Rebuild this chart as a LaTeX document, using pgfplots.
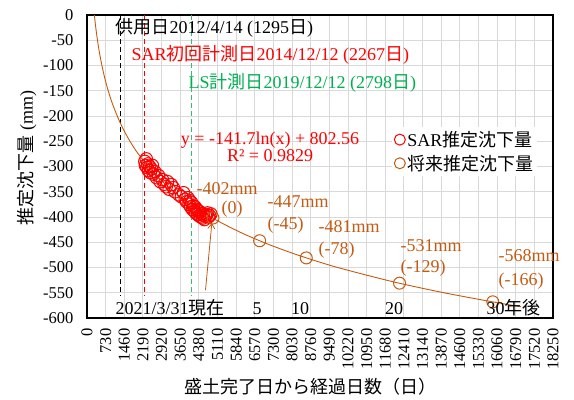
\documentclass[border=0pt]{standalone}
\usepackage{fontspec}
\setmainfont{Liberation Serif}
\newfontfamily\jp{Noto Sans CJK JP}
\usepackage{pgfplots}
\pgfplotsset{compat=1.18}
\usetikzlibrary{arrows.meta}

\definecolor{sarred}{RGB}{255,0,0}
\definecolor{futorange}{RGB}{197,90,17}
\definecolor{lsgreen}{RGB}{0,176,80}
\definecolor{lsdash}{RGB}{60,185,115}
\definecolor{gridgray}{RGB}{217,217,217}

\begin{document}
\begin{tikzpicture}[font=\fontsize{18bp}{21bp}\selectfont]
\begin{axis}[
  scale only axis, width=466bp, height=303bp,
  xmin=0, xmax=18250, ymin=-600, ymax=0,
  xtick={0,730,1460,2190,2920,3650,4380,5110,5840,6570,7300,8030,8760,9490,10220,10950,11680,12410,13140,13870,14600,15330,16060,16790,17520,18250},
  ytick={-600,-550,-500,-450,-400,-350,-300,-250,-200,-150,-100,-50,0},
  scaled x ticks=false,
  /pgf/number format/1000 sep={},
  /pgf/number format/assume math mode=true,
  tick label style={font=\fontsize{16.5bp}{19bp}\selectfont},
  xticklabel style={rotate=90, anchor=east},
  xticklabel shift=7bp,
  yticklabel shift=10bp,
  grid=major,
  major grid style={gridgray, line width=0.9bp},
  axis line style={black, line width=1.1bp},
  major tick length=0pt,
  clip mode=individual,
  legend style={at={(axis cs:11950,-222)}, anchor=north west, draw=none, fill=white,
    font=\fontsize{18bp}{21bp}\selectfont, row sep=3bp, inner sep=2bp},
  legend cell align=left,
]

% reference dates
\addplot[black, line width=0.9bp, dash pattern=on 5bp off 3bp, forget plot] coordinates {(1295,0) (1295,-555)};
\addplot[sarred, line width=0.9bp, dash pattern=on 5bp off 3bp, forget plot] coordinates {(2267,0) (2267,-555)};
\addplot[lsdash, line width=1.4bp, dash pattern=on 5bp off 3bp, forget plot] coordinates {(4093,0) (4093,-555)};

% logarithmic fit y = -141.7 ln(x) + 802.56
\addplot[futorange, line width=0.9bp, smooth, forget plot] coordinates {
(288,0) (320,-14.8) (350,-27.5) (400,-46.4) (450,-63.1) (500,-78.1) (600,-103.9)
(700,-125.7) (800,-144.6) (900,-161.3) (1000,-176.3) (1250,-207.9) (1500,-233.7)
(1750,-255.6) (2000,-274.5) (2500,-306.1) (3000,-331.9) (3500,-353.8) (4000,-372.7)
(5000,-404.3) (6000,-430.2) (7000,-452.0) (8000,-470.9) (9000,-487.6) (10000,-502.5)
(12000,-528.4) (14000,-550.2) (16000,-569.1) (17000,-577.7)};

% SAR estimated settlement
\addplot[only marks, mark=o, sarred, mark size=6.3bp, line width=1bp, forget plot] coordinates {
(2267,-290) (2290,-298) (2320,-285) (2350,-302) (2380,-295) (2410,-308) (2450,-300)
(2480,-312) (2520,-305) (2560,-298) (2600,-315) (2650,-310) (2720,-322) (2800,-318)
(2870,-330) (2950,-326) (3020,-335) (3100,-340) (3150,-330) (3220,-345) (3300,-336)
(3380,-342) (3450,-350) (3600,-356) (3700,-360) (3780,-352) (3850,-365) (3900,-370)
(3950,-362) (4000,-375) (4030,-368) (4060,-380) (4100,-372) (4130,-385) (4160,-378)
(4200,-388) (4230,-380) (4260,-392) (4300,-385) (4330,-395) (4360,-388) (4400,-398)
(4430,-390) (4460,-400) (4500,-393) (4530,-402) (4560,-396) (4600,-405) (4640,-398)
(4680,-395) (4720,-392) (4760,-400) (4800,-397) (4850,-394)};

% future estimated settlement (now, +5, +10, +20, +30 years)
\addplot[only marks, mark=o, futorange, mark size=6bp, line width=1bp, forget plot] coordinates {
(4935,-402) (6761,-447) (8587,-481) (12240,-531) (15892,-568)};

\addlegendimage{only marks, mark=o, sarred, mark size=5.5bp, line width=1bp}
\addlegendentry{SAR{\jp 推定沈下量}}
\addlegendimage{only marks, mark=o, futorange, mark size=5.5bp, line width=1bp}
\addlegendentry{{\jp 将来推定沈下量}}

% annotations
\node[anchor=base west, text=black] at (axis cs:979,-37.6) {{\jp 供用日}2012/4/14 (1295{\jp 日})};
\node[anchor=base west, text=sarred] at (axis cs:1606,-91) {SAR{\jp 初回計測日}2014/12/12 (2267{\jp 日})};
\node[anchor=base west, text=lsgreen] at (axis cs:3839,-144.6) {LS{\jp 計測日}2019/12/12 (2798{\jp 日})};
\node[anchor=base, text=sarred] at (axis cs:7168,-257) {y = -141.7ln(x) + 802.56};
\node[anchor=base, text=sarred] at (axis cs:7168,-291) {R² = 0.9829};

\node[anchor=base west, text=futorange] at (axis cs:4152,-355) {-402mm};
\node[anchor=base west, text=futorange] at (axis cs:5130,-394) {(0)};
\node[anchor=base west, text=futorange] at (axis cs:6933,-382) {-447mm};
\node[anchor=base west, text=futorange] at (axis cs:6933,-424) {(-45)};
\node[anchor=base west, text=futorange] at (axis cs:8930,-430) {-481mm};
\node[anchor=base west, text=futorange] at (axis cs:8930,-475) {(-78)};
\node[anchor=base west, text=futorange] at (axis cs:12142,-469) {-531mm};
\node[anchor=base west, text=futorange] at (axis cs:12142,-509) {(-129)};
\node[anchor=base west, text=futorange] at (axis cs:15981,-489) {-568mm};
\node[anchor=base west, text=futorange] at (axis cs:15981,-535) {(-166)};

\draw[futorange, line width=0.8bp, -{Straight Barb[length=5bp,width=7bp]}] (axis cs:4640,-545) -- (axis cs:4890,-412);

\node[anchor=base west, text=black] at (axis cs:979,-594) {2021/3/31{\jp 現在}};
\node[anchor=base, text=black] at (axis cs:6660,-594) {5};
\node[anchor=base, text=black] at (axis cs:8343,-594) {10};
\node[anchor=base, text=black] at (axis cs:12025,-594) {20};
\node[anchor=base west, text=black] at (axis cs:15510,-594) {30{\jp 年後}};
\end{axis}

% axis titles
\node[rotate=90] at (-60bp,160bp) {{\jp 推定沈下量} (mm)};
\node[anchor=base] at (223bp,-75bp) {{\jp 盛土完了日から経過日数（日）}};

\pgfresetboundingbox
\useasboundingbox (-87bp,-82bp) rectangle (487bp,318bp);
\end{tikzpicture}
\end{document}
